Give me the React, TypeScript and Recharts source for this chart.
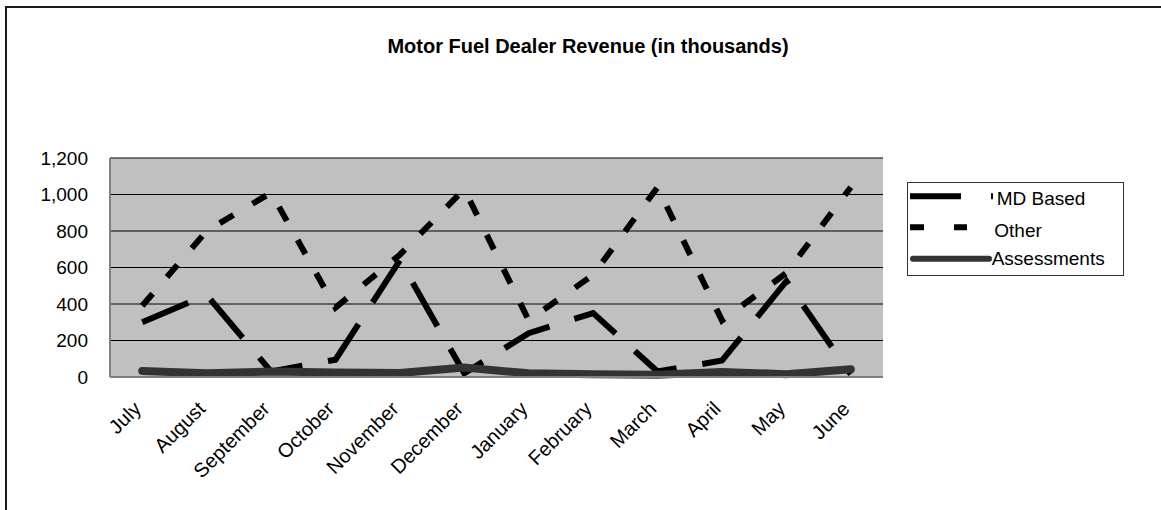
import React from 'react';
import { LineChart, Line, XAxis, YAxis, CartesianGrid } from 'recharts';

const months = ['July', 'August', 'September', 'October', 'November', 'December', 'January', 'February', 'March', 'April', 'May', 'June'];
const mdBased = [300, 450, 30, 95, 640, 20, 240, 350, 30, 90, 525, 15];
const other = [390, 800, 1010, 380, 670, 1030, 310, 560, 1040, 310, 570, 1040];
const assessments = [33, 20, 30, 24, 22, 52, 20, 15, 12, 28, 15, 42];
const yTicks = [0, 200, 400, 600, 800, 1000, 1200];

const data = months.map((m, i) => ({ month: m, md: mdBased[i], other: other[i], assess: assessments[i] }));

const FONT = '"Liberation Sans", Arial, Helvetica, sans-serif';
const HALF_BAND = 773 / 12 / 2;

const XTick = (props: any) => {
  const { x, y, payload } = props;
  const tx = x;
  const ty = y + 33;
  return (
    <text x={tx} y={ty} transform={`rotate(-45, ${tx}, ${ty})`} textAnchor="end" fontFamily={FONT} fontSize={20} fill="#000">
      {payload.value}
    </text>
  );
};

const LegendBox = () => (
  <svg width={218} height={95} style={{ display: 'block' }}>
    <rect x={0.5} y={0.5} width={216} height={93} fill="#fff" stroke="#333" strokeWidth={1} />
    <line x1={3} x2={86} y1={14.3} y2={14.3} stroke="#000" strokeWidth={6} strokeDasharray="51 30" />
    <text x={89.7} y={23} fontFamily={FONT} fontSize={19} fill="#000">MD Based</text>
    <line x1={3} x2={60} y1={45.3} y2={45.3} stroke="#000" strokeWidth={6} strokeDasharray="14 30" />
    <text x={87.3} y={55.3} fontFamily={FONT} fontSize={19} fill="#000">Other</text>
    <line x1={6} x2={82} y1={76.7} y2={76.7} stroke="#333" strokeWidth={6} strokeLinecap="round" />
    <text x={84.7} y={83} fontFamily={FONT} fontSize={19} fill="#000">Assessments</text>
  </svg>
);

export default function App() {
  return (
    <div style={{ position: 'absolute', left: 0, top: 0, width: 1161, height: 510, overflow: 'hidden', background: '#fff' }}>
      <div
        style={{
          position: 'absolute', left: 5, top: 6, width: 1300, height: 700,
          borderTop: '2px solid #1a1a1a', borderLeft: '2px solid #1a1a1a',
        }}
      />
      <div
        style={{
          position: 'absolute', left: 188, top: 36.4, width: 800, textAlign: 'center',
          fontFamily: FONT, fontWeight: 'bold', fontSize: 20, lineHeight: '20px', color: '#000',
        }}
      >
        Motor Fuel Dealer Revenue (in thousands)
      </div>
      <div style={{ position: 'absolute', left: 0, top: 0 }}>
        <LineChart width={1161} height={510} data={data} margin={{ top: 158, right: 278, left: 10, bottom: 33 }}>
          <CartesianGrid vertical={false} horizontal={true} fill="#C0C0C0" fillOpacity={1} stroke="#000" strokeWidth={1} />
          <XAxis
            dataKey="month"
            height={100}
            interval={0}
            padding={{ left: HALF_BAND, right: HALF_BAND }}
            tickLine={false}
            axisLine={{ stroke: '#808080', strokeWidth: 2 }}
            tickSize={0}
            tickMargin={0}
            tick={<XTick />}
          />
          <XAxis xAxisId="top" dataKey="month" orientation="top" height={0} tick={false} tickLine={false} axisLine={{ stroke: '#808080', strokeWidth: 2 }} />
          <YAxis
            width={100}
            domain={[0, 1200]}
            ticks={yTicks}
            interval={0}
            tickLine={false}
            tickSize={0}
            tickMargin={22}
            axisLine={{ stroke: '#808080', strokeWidth: 2 }}
            tickFormatter={(v: number) => v.toLocaleString('en-US')}
            tick={{ fontFamily: FONT, fontSize: 19, fill: '#000' }}
          />
          <YAxis yAxisId="right" orientation="right" width={0} domain={[0, 1200]} tick={false} tickLine={false} axisLine={{ stroke: '#808080', strokeWidth: 2 }} />
          <Line type="linear" dataKey="md" name="MD Based" stroke="#000" strokeWidth={6} strokeDasharray="50 26" dot={false} activeDot={false} isAnimationActive={false} />
          <Line type="linear" dataKey="other" name="Other" stroke="#000" strokeWidth={6} strokeDasharray="16 22" dot={false} activeDot={false} isAnimationActive={false} />
          <Line type="linear" dataKey="assess" name="Assessments" stroke="#333" strokeWidth={8} strokeLinecap="round" dot={false} activeDot={false} isAnimationActive={false} />
        </LineChart>
      </div>
      <div style={{ position: 'absolute', left: 907, top: 182 }}>
        <LegendBox />
      </div>
    </div>
  );
}
